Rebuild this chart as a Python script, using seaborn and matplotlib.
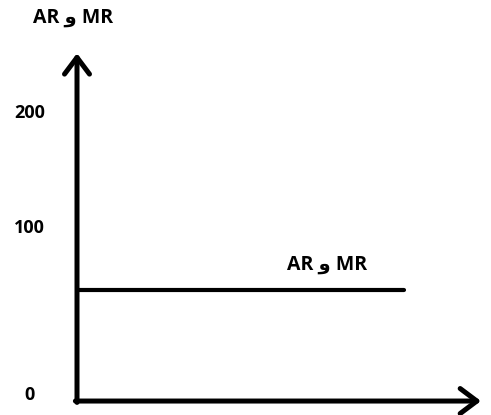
import matplotlib
matplotlib.use("Agg")
import matplotlib.pyplot as plt
import seaborn as sns
import pandas as pd

# ---- data ----
quantity = [0, 81]          # extent of the horizontal MR = AR line (x units, 0..100)
mr_ar = [63, 63]            # price level of MR = AR
tick_labels = ["0", "100", "200"]
tick_values = [4, 100, 166]
axis_title = "AR و MR"
line_label = "AR و MR"

sns.set_style("white")
plt.rcParams["font.family"] = ["Open Sans", "DejaVu Sans"]
plt.rcParams["text.color"] = "black"
plt.rcParams["ytick.color"] = "black"

fig = plt.figure(figsize=(4.91, 4.15), dpi=100)
ax = fig.add_axes([77 / 491, 15 / 415, 404 / 491, 345 / 415])

df = pd.DataFrame({"q": quantity, "p": mr_ar})
sns.lineplot(data=df, x="q", y="p", ax=ax, color="black", linewidth=3.0)

ax.set_xlim(0, 100)
ax.set_ylim(0, 198)

for s in ax.spines.values():
    s.set_visible(False)

ax.set_xlabel("")
ax.set_ylabel("")
ax.set_xticks([])
ax.set_yticks(tick_values)
ax.set_yticklabels(tick_labels, fontweight="bold", fontsize=13, color="black")
ax.tick_params(axis="y", length=0, pad=34)
for lab in ax.get_yticklabels():
    lab.set_horizontalalignment("center")

# axis arrows
arrow_kw = dict(arrowstyle="->,head_length=0.6,head_width=0.45",
                color="black", lw=3.6, mutation_scale=20,
                shrinkA=0, shrinkB=0)
ax.annotate("", xy=(0, 1.005), xytext=(0, -0.007), xycoords="axes fraction",
            textcoords="axes fraction", arrowprops=arrow_kw, annotation_clip=False)
ax.annotate("", xy=(1, -0.003), xytext=(-0.004, -0.003), xycoords="axes fraction",
            textcoords="axes fraction", arrowprops=arrow_kw, annotation_clip=False)

ax.text(62, 77.5, line_label, ha="center", va="center",
        fontsize=14, fontweight="bold", color="black")
fig.text(73 / 491, 1 - 18 / 415, axis_title, ha="center", va="center",
         fontsize=14, fontweight="bold", color="black")

fig.savefig("out.png", dpi=100)
